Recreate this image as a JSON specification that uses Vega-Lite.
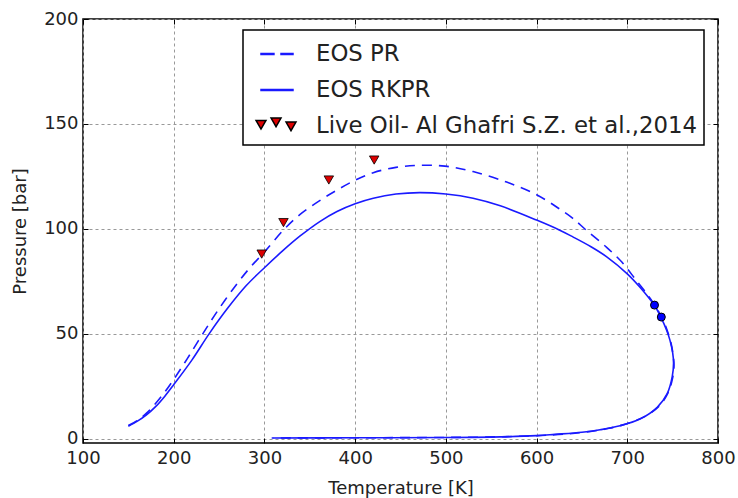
{
  "$schema": "https://vega.github.io/schema/vega-lite/v6.json",
  "width": 635,
  "height": 424,
  "autosize": {"type": "none"},
  "padding": {"left": 83, "top": 19, "right": 20, "bottom": 55},
  "background": "white",
  "config": {
    "font": "DejaVu Sans",
    "view": {"stroke": "#000", "strokeWidth": 1.5},
    "axis": {
      "labelFont": "DejaVu Sans", "labelFontSize": 18, "labelColor": "#222", "labelFlush": false,
      "titleFont": "DejaVu Sans", "titleFontSize": 18, "titleFontWeight": "normal", "titleColor": "#222",
      "domain": false, "tickColor": "#000", "tickSize": -5, "tickWidth": 1,
      "gridColor": "#999", "gridDash": [3, 3], "gridWidth": 1, "gridOpacity": 1
    },
    "legend": {"strokeWidth": 1.5}
  },
  "datasets": {
    "pr": [
      {"i": 1, "T": 150, "P": 6.3},
      {"i": 2, "T": 160, "P": 8.8},
      {"i": 3, "T": 170, "P": 12.2},
      {"i": 4, "T": 180, "P": 16.8},
      {"i": 5, "T": 190, "P": 22.2},
      {"i": 6, "T": 200, "P": 28.3},
      {"i": 7, "T": 215, "P": 38.2},
      {"i": 8, "T": 232, "P": 50},
      {"i": 9, "T": 250, "P": 62},
      {"i": 10, "T": 270, "P": 74},
      {"i": 11, "T": 285, "P": 82},
      {"i": 12, "T": 300, "P": 89},
      {"i": 13, "T": 321, "P": 99.5},
      {"i": 14, "T": 339, "P": 106.8},
      {"i": 15, "T": 361, "P": 113.5},
      {"i": 16, "T": 380, "P": 118.5},
      {"i": 17, "T": 400, "P": 123.2},
      {"i": 18, "T": 420, "P": 126.8},
      {"i": 19, "T": 445, "P": 129.3},
      {"i": 20, "T": 470, "P": 130.3},
      {"i": 21, "T": 499, "P": 129.9},
      {"i": 22, "T": 530, "P": 127.3},
      {"i": 23, "T": 567, "P": 122.3},
      {"i": 24, "T": 600, "P": 116.3},
      {"i": 25, "T": 626, "P": 109.3},
      {"i": 26, "T": 640, "P": 105},
      {"i": 27, "T": 655, "P": 99.3},
      {"i": 28, "T": 677, "P": 91.3},
      {"i": 29, "T": 694, "P": 84.2},
      {"i": 30, "T": 710, "P": 75.4},
      {"i": 31, "T": 723, "P": 68.3},
      {"i": 32, "T": 732, "P": 62.5},
      {"i": 33, "T": 739, "P": 57},
      {"i": 34, "T": 744, "P": 51.6},
      {"i": 35, "T": 748, "P": 46},
      {"i": 36, "T": 750.5, "P": 40},
      {"i": 37, "T": 751.5, "P": 35},
      {"i": 38, "T": 750, "P": 29},
      {"i": 39, "T": 745, "P": 22},
      {"i": 40, "T": 736, "P": 16},
      {"i": 41, "T": 722, "P": 11.3},
      {"i": 42, "T": 705, "P": 8},
      {"i": 43, "T": 680, "P": 5},
      {"i": 44, "T": 650, "P": 3},
      {"i": 45, "T": 620, "P": 1.9},
      {"i": 46, "T": 580, "P": 1.2},
      {"i": 47, "T": 540, "P": 0.8},
      {"i": 48, "T": 480, "P": 0.6},
      {"i": 49, "T": 400, "P": 0.5},
      {"i": 50, "T": 310, "P": 0.4}
    ],
    "rkpr": [
      {"i": 1, "T": 150, "P": 6},
      {"i": 2, "T": 160, "P": 8.4},
      {"i": 3, "T": 170, "P": 11.4},
      {"i": 4, "T": 180, "P": 15.3},
      {"i": 5, "T": 190, "P": 20.2},
      {"i": 6, "T": 200, "P": 25.8},
      {"i": 7, "T": 220, "P": 37.5},
      {"i": 8, "T": 239, "P": 50},
      {"i": 9, "T": 260, "P": 62.5},
      {"i": 10, "T": 280, "P": 73},
      {"i": 11, "T": 300, "P": 81.5},
      {"i": 12, "T": 320, "P": 89.5},
      {"i": 13, "T": 339, "P": 96.5},
      {"i": 14, "T": 361, "P": 103.5},
      {"i": 15, "T": 380, "P": 108.3},
      {"i": 16, "T": 400, "P": 112},
      {"i": 17, "T": 420, "P": 114.6},
      {"i": 18, "T": 445, "P": 116.6},
      {"i": 19, "T": 471, "P": 117.3},
      {"i": 20, "T": 500, "P": 116.6},
      {"i": 21, "T": 530, "P": 114.6},
      {"i": 22, "T": 560, "P": 111},
      {"i": 23, "T": 600, "P": 104.2},
      {"i": 24, "T": 625, "P": 99.5},
      {"i": 25, "T": 640, "P": 96.2},
      {"i": 26, "T": 660, "P": 91.5},
      {"i": 27, "T": 677, "P": 86.8},
      {"i": 28, "T": 700, "P": 78.6},
      {"i": 29, "T": 714, "P": 72.2},
      {"i": 30, "T": 730, "P": 63.5},
      {"i": 31, "T": 737, "P": 58},
      {"i": 32, "T": 743.5, "P": 51.6},
      {"i": 33, "T": 747, "P": 47},
      {"i": 34, "T": 750, "P": 41},
      {"i": 35, "T": 751, "P": 36},
      {"i": 36, "T": 749.5, "P": 29.5},
      {"i": 37, "T": 744, "P": 21.5},
      {"i": 38, "T": 733, "P": 15},
      {"i": 39, "T": 714, "P": 9.4},
      {"i": 40, "T": 692, "P": 6.2},
      {"i": 41, "T": 670, "P": 4.3},
      {"i": 42, "T": 650, "P": 3.1},
      {"i": 43, "T": 620, "P": 2.1},
      {"i": 44, "T": 600, "P": 1.5},
      {"i": 45, "T": 560, "P": 0.9},
      {"i": 46, "T": 500, "P": 0.6},
      {"i": 47, "T": 400, "P": 0.5},
      {"i": 48, "T": 308, "P": 0.4}
    ],
    "exp": [
      {"T": 297, "P": 88},
      {"T": 321, "P": 103},
      {"T": 371, "P": 123.3},
      {"T": 421, "P": 132.8}
    ],
    "crit": [
      {"T": 730, "P": 63.7},
      {"T": 737.5, "P": 58}
    ],
    "legendrows": []
  },
  "resolve": {"axis": {"x": "independent", "y": "independent"}},
  "layer": [
    {
      "data": {"name": "pr"},
      "mark": {"type": "line", "strokeWidth": 1.6, "strokeDash": [10, 7], "color": "#1a1aff", "interpolate": "catmull-rom"},
      "encoding": {
        "x": {"field": "T", "type": "quantitative",
          "scale": {"domain": [100, 800], "nice": false, "zero": false},
          "axis": {"values": [100, 200, 300, 400, 500, 600, 700, 800], "title": "Temperature [K]", "grid": true, "labelPadding": 11, "titlePadding": 12}},
        "y": {"field": "P", "type": "quantitative",
          "scale": {"domain": [-2, 200], "nice": false, "zero": false},
          "axis": {"values": [0, 50, 100, 150, 200], "title": "Pressure [bar]", "grid": true, "labelPadding": 10, "titlePadding": 14}},
        "order": {"field": "i", "type": "quantitative"}
      }
    },
    {
      "data": {"name": "rkpr"},
      "mark": {"type": "line", "strokeWidth": 1.6, "color": "#1a1aff", "interpolate": "catmull-rom"},
      "encoding": {
        "x": {"field": "T", "type": "quantitative", "axis": null},
        "y": {"field": "P", "type": "quantitative", "axis": null},
        "order": {"field": "i", "type": "quantitative"}
      }
    },
    {
      "data": {"name": "exp"},
      "mark": {"type": "point", "shape": "triangle-down", "filled": true, "fill": "#dd0000", "stroke": "#000", "strokeWidth": 0.8, "size": 90, "opacity": 1},
      "encoding": {
        "x": {"field": "T", "type": "quantitative", "axis": null},
        "y": {"field": "P", "type": "quantitative", "axis": null}
      }
    },
    {
      "data": {"name": "legendrows"},
      "mark": {"type": "point", "filled": true, "strokeWidth": 0.8, "size": 1024, "opacity": 1},
      "encoding": {
        "x": {"field": "T", "type": "quantitative", "axis": null},
        "y": {"field": "P", "type": "quantitative", "axis": null},
        "fill": {"field": "series", "type": "nominal",
          "scale": {"domain": ["EOS PR", "EOS RKPR", "Live Oil- Al Ghafri S.Z. et al.,2014"], "range": ["#1a1aff", "#1a1aff", "#dd0000"]},
          "legend": {
            "orient": "none", "legendX": 160, "legendY": 11, "title": null,
            "padding": 7, "rowPadding": 7, "symbolOffset": 10, "labelOffset": 22, "labelLimit": 600,
            "labelFont": "DejaVu Sans", "labelFontSize": 22.8, "labelColor": "#222",
            "symbolSize": 1024, "strokeColor": "#000", "fillColor": "white"
          }},
        "stroke": {"field": "series", "type": "nominal",
          "scale": {"domain": ["EOS PR", "EOS RKPR", "Live Oil- Al Ghafri S.Z. et al.,2014"], "range": ["#1a1aff", "#1a1aff", "#000000"]},
          "legend": {
            "orient": "none", "legendX": 160, "legendY": 11, "title": null,
            "padding": 7, "rowPadding": 7, "symbolOffset": 10, "labelOffset": 22, "labelLimit": 600,
            "labelFont": "DejaVu Sans", "labelFontSize": 22.8, "labelColor": "#222",
            "symbolSize": 1024, "strokeColor": "#000", "fillColor": "white"
          }},
        "shape": {"field": "series", "type": "nominal",
          "scale": {"domain": ["EOS PR", "EOS RKPR", "Live Oil- Al Ghafri S.Z. et al.,2014"],
            "range": [
              "M-1,-0.03H-0.19V0.03H-1Z M0.25,-0.03H1V0.03H0.25Z",
              "M-1,-0.03H1V0.03H-1Z",
              "M-1.31,-0.35L-0.69,-0.35L-1,0.19Z M-0.37,-0.5L0.25,-0.5L-0.06,0.04Z M0.565,-0.25L1.185,-0.25L0.875,0.29Z"
            ]},
          "legend": {
            "orient": "none", "legendX": 160, "legendY": 11, "title": null,
            "padding": 7, "rowPadding": 7, "symbolOffset": 10, "labelOffset": 22, "labelLimit": 600,
            "labelFont": "DejaVu Sans", "labelFontSize": 22.8, "labelColor": "#222",
            "symbolSize": 1024, "strokeColor": "#000", "fillColor": "white"
          }}
      }
    },
    {
      "data": {"name": "crit"},
      "mark": {"type": "circle", "fill": "#0000ff", "stroke": "#000", "strokeWidth": 1, "size": 64, "opacity": 1},
      "encoding": {
        "x": {"field": "T", "type": "quantitative",
          "axis": {"orient": "top", "values": [100, 200, 300, 400, 500, 600, 700, 800], "labels": false, "title": null, "grid": false}},
        "y": {"field": "P", "type": "quantitative",
          "axis": {"orient": "right", "values": [0, 50, 100, 150, 200], "labels": false, "title": null, "grid": false}}
      }
    }
  ]
}
